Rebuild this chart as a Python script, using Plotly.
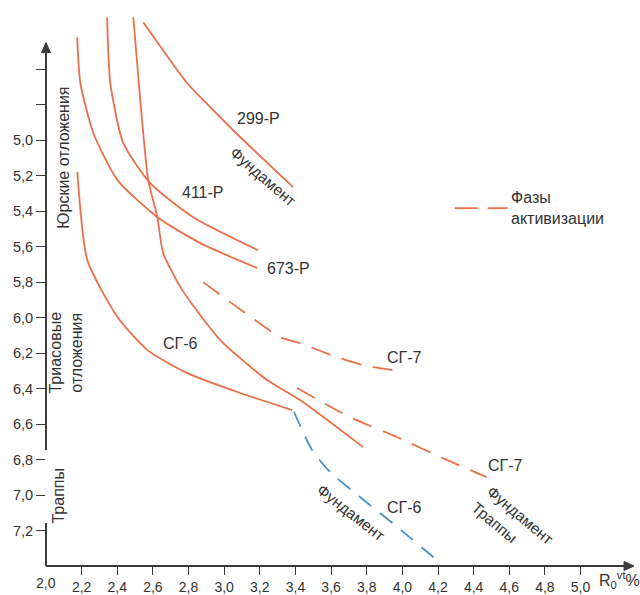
import plotly.graph_objects as go

# ---------------- data ----------------
x_299 = [2.546, 2.793, 2.922, 3.050, 3.387]
y_299 = [4.335, 4.679, 4.814, 4.944, 5.265]

x_411 = [2.343, 2.361, 2.434, 2.585, 2.826, 3.190]
y_411 = [4.307, 4.679, 5.017, 5.242, 5.434, 5.620]

x_673 = [2.175, 2.193, 2.266, 2.401, 2.625, 2.866, 3.185]
y_673 = [4.420, 4.679, 4.961, 5.225, 5.434, 5.580, 5.721]

x_steep = [2.490, 2.529, 2.574, 2.625, 2.658, 2.765, 2.978, 3.241, 3.426, 3.779]
y_steep = [4.307, 4.775, 5.225, 5.434, 5.637, 5.845, 6.127, 6.352, 6.465, 6.730]

x_sg6 = [2.176, 2.232, 2.401, 2.569, 2.793, 3.090, 3.381]
y_sg6 = [5.180, 5.676, 5.997, 6.183, 6.313, 6.425, 6.521]

x_sg6_fund = [3.392, 3.493, 3.594, 3.762, 3.958, 4.193]
y_sg6_fund = [6.532, 6.746, 6.870, 7.011, 7.169, 7.366]

x_sg7_up = [2.882, 3.073, 3.314, 3.426, 3.633, 3.779, 3.947]
y_sg7_up = [5.800, 5.941, 6.110, 6.144, 6.223, 6.268, 6.296]

x_sg7_low = [3.409, 3.706, 3.969, 4.227, 4.473]
y_sg7_low = [6.397, 6.561, 6.673, 6.792, 6.899]

x_ticks = [2.2, 2.4, 2.6, 2.8, 3.0, 3.2, 3.4, 3.6, 3.8, 4.0, 4.2, 4.4, 4.6, 4.8, 5.0]
x_ticktext = ["2,2", "2,4", "2,6", "2,8", "3,0", "3,2", "3,4", "3,6", "3,8",
              "4,0", "4,2", "4,4", "4,6", "4,8", "5,0"]
y_ticks = [4.6, 4.8, 5.0, 5.2, 5.4, 5.6, 5.8, 6.0, 6.2, 6.4, 6.6, 6.8, 7.0, 7.2]
y_ticktext = ["", "", "5,0", "5,2", "5,4", "5,6", "5,8", "6,0", "6,2", "6,4",
              "6,6", "6,8", "7,0", "7,2"]

# ---------------- style ----------------
ORANGE = "#E8704A"
BLUE = "#4A90C4"
AXIS = "#3a3a3a"
TEXT = "#333333"
FONT = "Liberation Sans, Arial, sans-serif"

X0, X1 = 2.0, 5.30
Y0, Y1 = 7.4, 4.30
PW, PH = 589.0, 550.25  # plot area size in pixels

fig = go.Figure()

def solid(x, y, color=ORANGE):
    fig.add_trace(go.Scatter(x=x, y=y, mode="lines",
                             line=dict(color=color, width=1.8, shape="spline", smoothing=0.6),
                             showlegend=False, hoverinfo="skip"))

def dashed(x, y, color=ORANGE, dash="20px,12px"):
    fig.add_trace(go.Scatter(x=x, y=y, mode="lines",
                             line=dict(color=color, width=1.8, dash=dash, shape="spline", smoothing=0.6),
                             showlegend=False, hoverinfo="skip"))

solid(x_299, y_299)
solid(x_411, y_411)
solid(x_673, y_673)
solid(x_steep, y_steep)
solid(x_sg6, y_sg6)
dashed(x_sg6_fund, y_sg6_fund, BLUE, "16px,11px")
dashed(x_sg7_up, y_sg7_up)
dashed(x_sg7_low, y_sg7_low)

def py_(v):  # data y -> paper y
    return (Y0 - v) / (Y0 - Y1)

# plot area in pixels: x 45.5..634.5, y 15.75..566
def to_paper_x(px):
    return (px - 45.5) / PW

def to_paper_y(py):
    return (566 - py) / PH

# arrowhead paths (paper units)
tip_y = py_(4.45)
hw_x, hl_y = 4.5 / PW, 10 / PH
y_arrow = (f"M 0 {tip_y} L {-hw_x} {tip_y - hl_y} L {hw_x} {tip_y - hl_y} Z")
hw_y, hl_x = 4.5 / PH, 10 / PW
x_arrow = (f"M 1 0 L {1 - hl_x} {hw_y} L {1 - hl_x} {-hw_y} Z")

shapes = [
    # y axis (with a break between sections)
    dict(type="line", xref="paper", yref="paper", x0=0, x1=0, y0=tip_y - hl_y / 2, y1=py_(6.746),
         layer="above", line=dict(color=AXIS, width=2)),
    dict(type="line", xref="paper", yref="paper", x0=0, x1=0, y0=py_(7.158), y1=0,
         layer="above", line=dict(color=AXIS, width=2)),
    # x axis
    dict(type="line", xref="paper", yref="paper", x0=0, x1=1 - hl_x / 2, y0=0, y1=0,
         layer="above", line=dict(color=AXIS, width=2)),
    dict(type="path", xref="paper", yref="paper", path=y_arrow, fillcolor=AXIS,
         line=dict(color=AXIS, width=1), layer="above"),
    dict(type="path", xref="paper", yref="paper", path=x_arrow, fillcolor=AXIS,
         line=dict(color=AXIS, width=1), layer="above"),
    # legend dashes
    dict(type="line", xref="paper", yref="paper", x0=to_paper_x(455), x1=to_paper_x(478),
         y0=to_paper_y(208), y1=to_paper_y(208), line=dict(color=ORANGE, width=1.8)),
    dict(type="line", xref="paper", yref="paper", x0=to_paper_x(488), x1=to_paper_x(508),
         y0=to_paper_y(208), y1=to_paper_y(208), line=dict(color=ORANGE, width=1.8)),
]

annotations = []

def label(text, x, y, angle=0, size=16, xanchor="center"):
    annotations.append(dict(text=text, x=x, y=y, xref="x", yref="y", showarrow=False,
                            textangle=angle, xanchor=xanchor, yanchor="middle",
                            font=dict(family=FONT, size=size, color=TEXT)))

label("299-Р", 3.191, 4.876)
label("411-Р", 2.882, 5.293)
label("673-Р", 3.359, 5.721)
label("СГ-6", 2.754, 6.144)
label("СГ-7", 4.014, 6.223)
label("СГ-7", 4.580, 6.831)
label("СГ-6", 4.014, 7.068)
label("Фундамент", 3.219, 5.203, angle=41, size=15.5)
label("Фундамент", 3.712, 7.096, angle=38, size=15.5)
label("Фундамент", 4.664, 7.113, angle=40, size=15.5)
label("Траппы", 4.518, 7.152, angle=40, size=15.5)

for text, px, py in [("Юрские отложения", 63, 157), ("Триасовые<br>отложения", 66, 352), ("Траппы", 58, 495)]:
    annotations.append(dict(text=text, x=to_paper_x(px), y=to_paper_y(py), xref="paper", yref="paper",
                            showarrow=False, textangle=-90, xanchor="center", yanchor="middle",
                            font=dict(family=FONT, size=16, color=TEXT)))

# legend text
annotations.append(dict(text="Фазы<br>активизации", x=to_paper_x(509), y=to_paper_y(208),
                        xref="paper", yref="paper", showarrow=False, xanchor="left", yanchor="middle",
                        align="left", font=dict(family=FONT, size=16, color=TEXT)))

# "2,0" label at origin
annotations.append(dict(text="2,0", x=0, y=0, xref="paper", yref="paper", showarrow=False,
                        xanchor="center", yanchor="top", yshift=-7,
                        font=dict(family=FONT, size=14, color=TEXT)))

# x axis title
annotations.append(dict(text="R<sub>0</sub><sup>vt</sup>%", x=to_paper_x(597), y=to_paper_y(580),
                        xref="paper", yref="paper", showarrow=False, xanchor="left", yanchor="middle",
                        font=dict(family=FONT, size=16, color=TEXT)))

fig.update_layout(
    width=640, height=595,
    margin=dict(l=45.5, r=5.5, t=15.75, b=29, autoexpand=False),
    paper_bgcolor="white", plot_bgcolor="white",
    shapes=shapes, annotations=annotations,
    xaxis=dict(range=[X0, X1], showgrid=False, zeroline=False, showline=False,
               tickmode="array", tickvals=x_ticks, ticktext=x_ticktext,
               ticks="outside", ticklen=8, tickwidth=1.4, tickcolor=AXIS, automargin=False,
               tickfont=dict(family=FONT, size=14, color=TEXT)),
    yaxis=dict(range=[Y0, Y1], showgrid=False, zeroline=False, showline=False,
               tickmode="array", tickvals=y_ticks, ticktext=y_ticktext,
               ticks="outside", ticklen=9, tickwidth=1.4, tickcolor=AXIS, automargin=False,
               tickfont=dict(family=FONT, size=14.5, color=TEXT)),
)

fig.write_html("out.html", config={"displayModeBar": False},
               post_script="document.body.style.margin='0';document.body.style.overflow='hidden';")
